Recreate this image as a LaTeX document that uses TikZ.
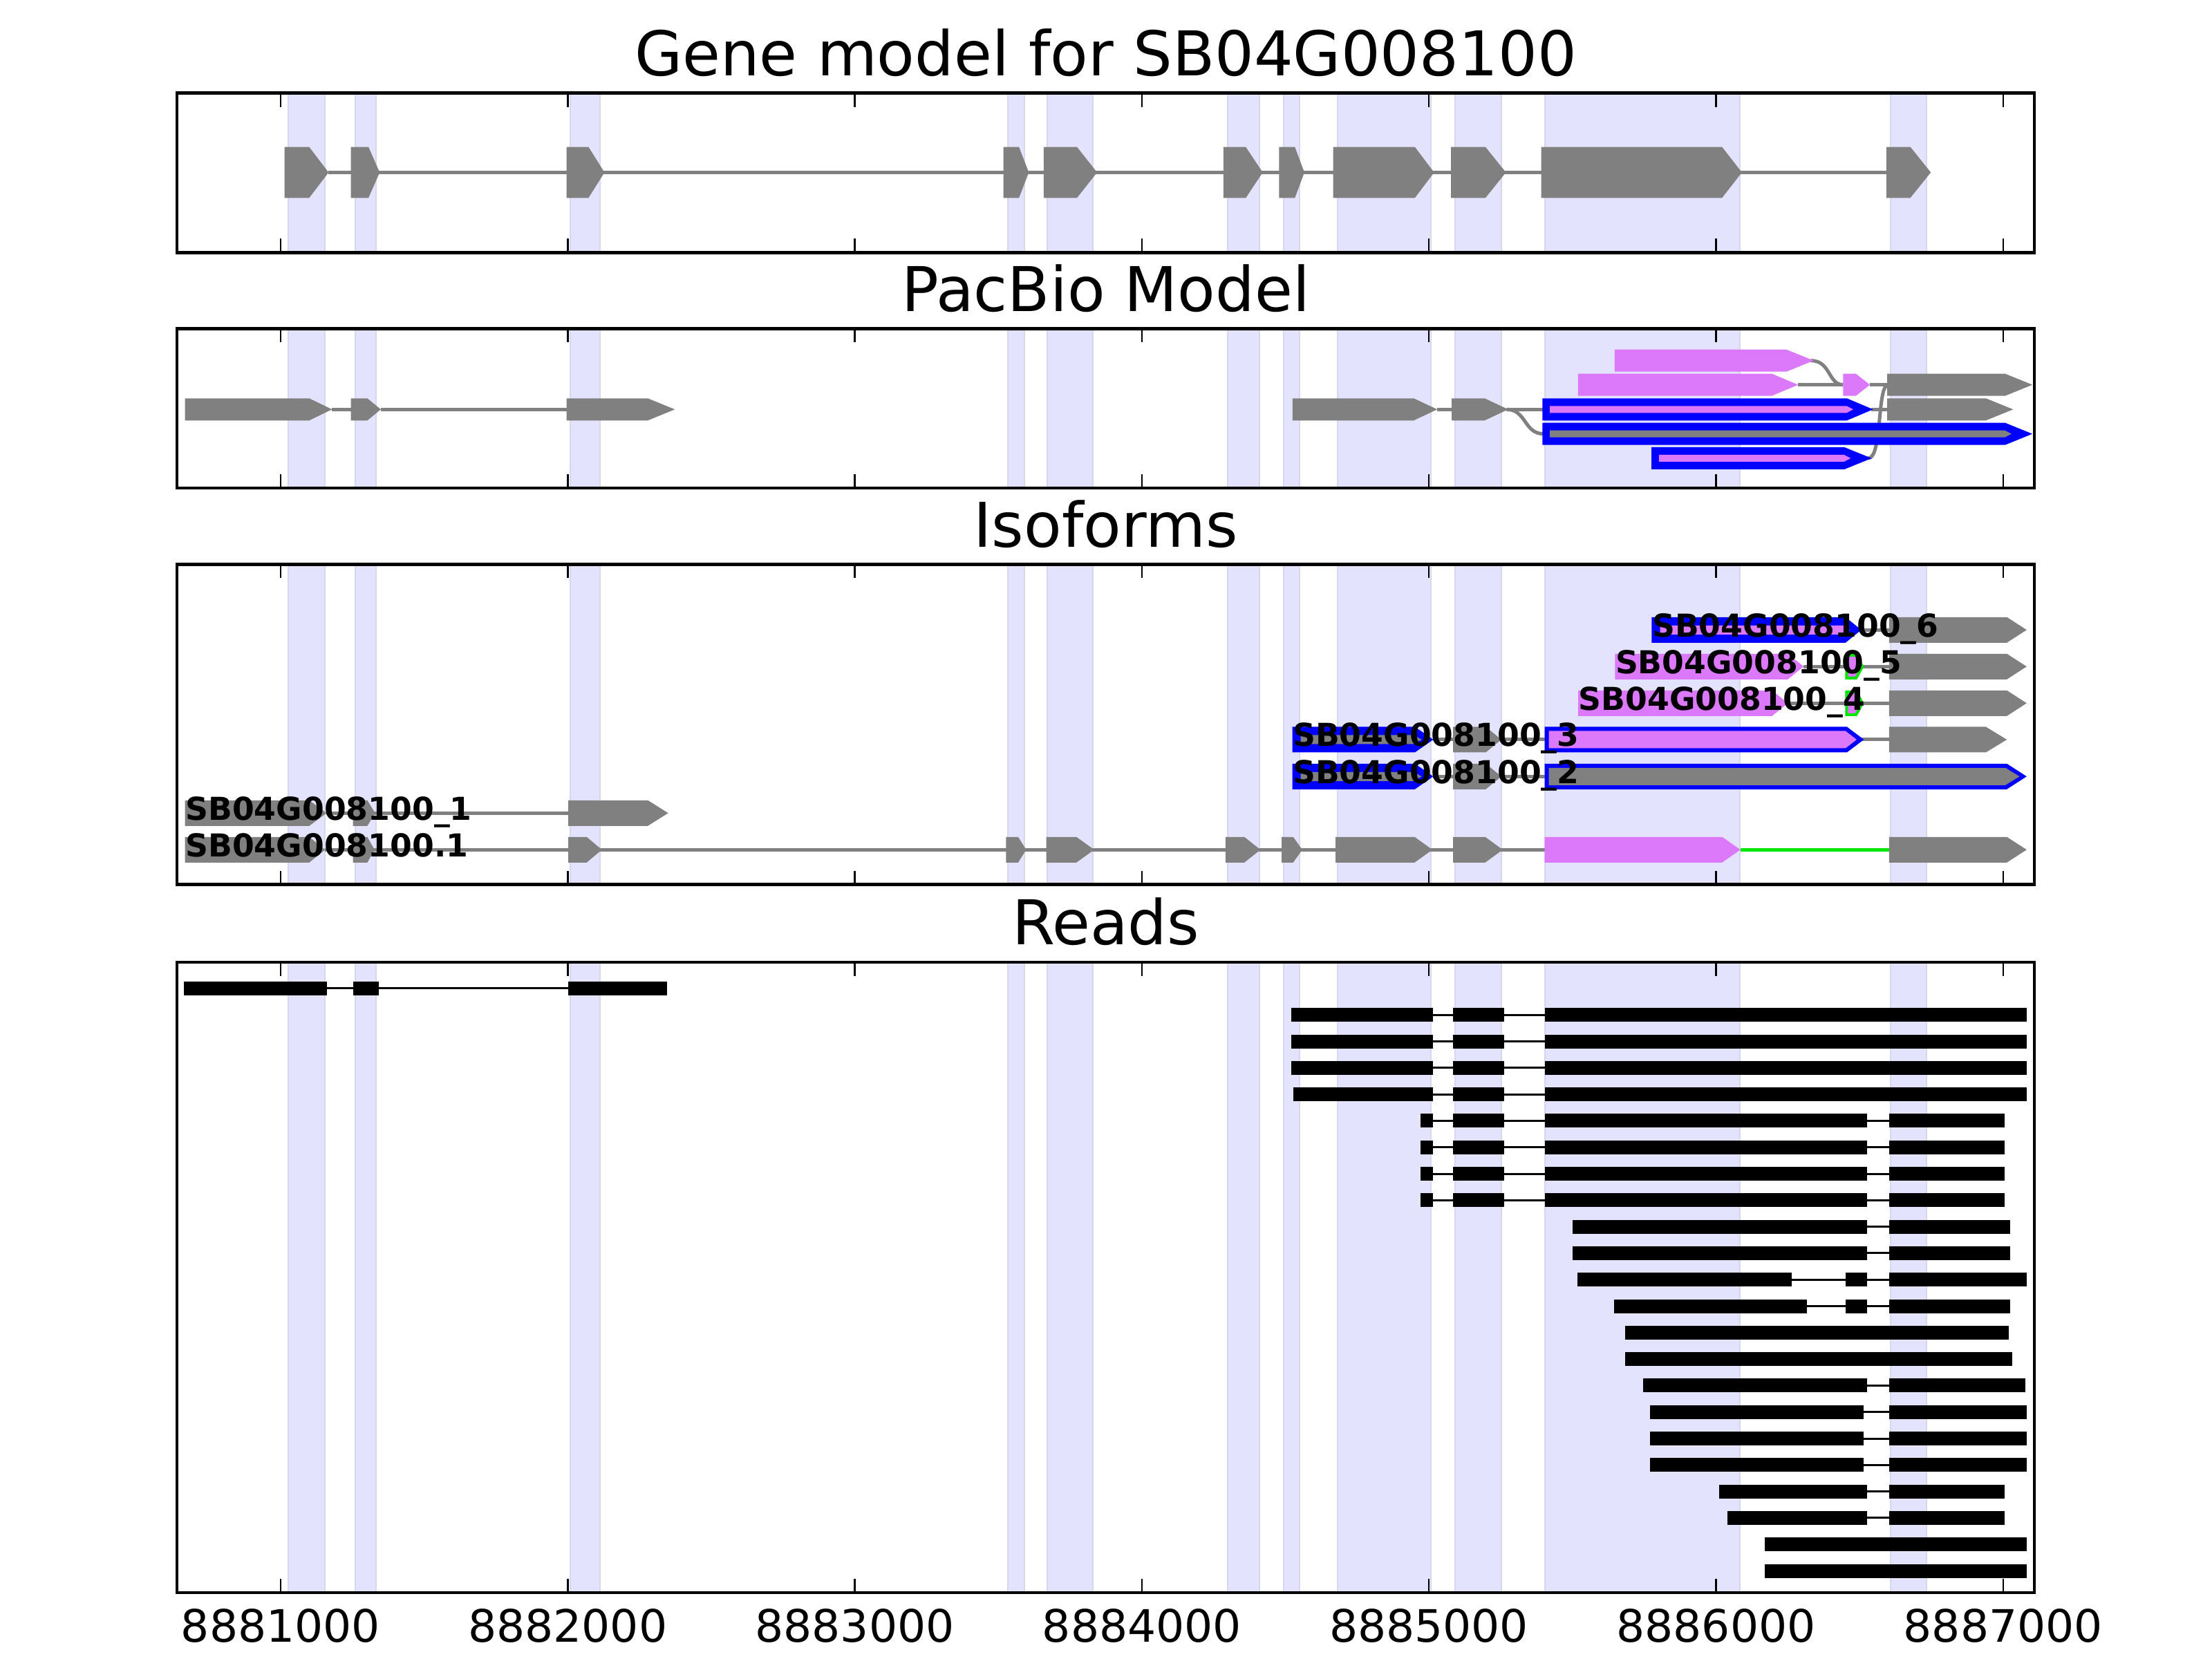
\documentclass[tikz,border=0pt]{standalone}
\usepackage{fontspec}
\setmainfont{DejaVu Sans}
\usepackage{tikz}
\usepackage{xcolor}

\definecolor{exongray}{RGB}{128,128,128}
\definecolor{isopink}{RGB}{220,120,250}
\definecolor{bandfill}{RGB}{227,227,253}
\definecolor{bandline}{RGB}{214,214,238}
\definecolor{newgreen}{RGB}{0,230,0}

% pentagon exon: start, body end, tip, centre y, half height
\newcommand{\exon}[5]{(#1,#4-#5) -- (#2,#4-#5) -- (#3,#4) -- (#2,#4+#5) -- (#1,#4+#5) -- cycle}
\newcommand{\readrow}[4]{%
  \pgfmathsetmacro{\ry}{9.70-0.383*#1}
  \draw[readline] (#2,\ry) -- (#3,\ry);
  \foreach \a/\b in {#4} \fill[readbar] (\a,\ry-0.1) rectangle (\b,\ry+0.1);}

\begin{document}
\begin{tikzpicture}[
  band/.style={fill=bandfill, draw=bandline, line width=0.02cm},
  intron/.style={draw=exongray, line width=0.05cm},
  readline/.style={draw=black, line width=0.03cm},
  readbar/.style={fill=black},
  panelframe/.style={draw=black, line width=0.045cm},
  tickmark/.style={draw=black, line width=0.025cm},
  paneltitle/.style={font=\fontsize{25.4}{30}\selectfont, anchor=base, inner sep=0pt},
  ticklabel/.style={font=\fontsize{18.4}{22}\selectfont, anchor=base, inner sep=0pt},
  isolabel/.style={font=\fontsize{13}{15}\selectfont\bfseries, anchor=base west, inner sep=0pt}]
\useasboundingbox (0,0) rectangle (32,24);
\fill[white] (0,0) rectangle (32,24);
\begin{scope}[x=4.153cm, xshift=-0.093cm]
\foreach \yb/\yt in {20.347/22.653,16.939/19.245,11.204/15.837,0.96/10.082}
  \foreach \a/\b in {1.026/1.155,1.259/1.333,2.009/2.113,3.532/3.591,3.671/3.830,4.299/4.409,4.494/4.549,4.682/5.006,5.092/5.252,5.403/6.082,6.608/6.734}
    \filldraw[band] (\a,\yb) rectangle (\b,\yt);

% gene model
\draw[intron] (1.167,21.505) -- (6.593,21.505);
\foreach \a/\b/\c in {1.0135/1.0995/1.167,1.2445/1.306/1.345,1.996/2.0725/2.128,3.518/3.572/3.606,3.658/3.774/3.844,4.284/4.362/4.421,4.478/4.533/4.566,4.666/4.951/5.018,5.077/5.197/5.268,5.391/6.021/6.090,6.593/6.677/6.748}
  \fill[exongray] \exon{\a}{\b}{\c}{21.505}{0.368};

% pacbio model
\draw[intron] (1.179,18.077) -- (1.2445,18.077) (1.349,18.077) -- (1.996,18.077)
  (5.029,18.077) -- (5.079,18.077) (5.276,18.077) -- (5.40,18.077) (6.54,18.077) -- (6.596,18.077)
  (6.286,18.433) -- (6.443,18.433) (6.536,18.433) -- (6.596,18.433);
\draw[intron] (6.330,18.783) .. controls (6.40,18.783) and (6.39,18.433) .. (6.443,18.433);
\draw[intron] (5.27,18.077) .. controls (5.34,18.077) and (5.33,17.723) .. (5.40,17.723);
\draw[intron] (6.53,17.37) .. controls (6.58,17.37) and (6.56,18.433) .. (6.60,18.433);
\foreach \a/\b/\c in {0.667/1.0995/1.179,1.2445/1.302/1.349,1.996/2.279/2.373,4.525/4.947/5.029,5.079/5.194/5.276,6.596/6.940/7.035}
  \fill[exongray] \exon{\a}{\b}{\c}{18.077}{0.16};
\fill[exongray] \exon{6.596}{7.007}{7.102}{18.433}{0.16};
\fill[isopink] \exon{5.647}{6.245}{6.340}{18.783}{0.16};
\fill[isopink] \exon{5.519}{6.194}{6.286}{18.433}{0.16};
\fill[isopink] \exon{6.443}{6.487}{6.536}{18.433}{0.16};
\fill[blue] \exon{5.395}{6.456}{6.547}{18.077}{0.16};
\fill[isopink] \exon{5.421}{6.455}{6.478}{18.077}{0.05};
\fill[blue] \exon{5.395}{7.007}{7.102}{17.723}{0.16};
\fill[exongray] \exon{5.421}{7.006}{7.029}{17.723}{0.05};
\fill[blue] \exon{5.775}{6.447}{6.542}{17.370}{0.16};
\fill[isopink] \exon{5.801}{6.446}{6.469}{17.370}{0.05};

% isoforms
\draw[intron] (1.155,11.707) -- (5.403,11.707) (1.16,12.237) -- (2.002,12.237)
  (5.015,12.767) -- (5.403,12.767) (5.015,13.30) -- (6.603,13.30)
  (6.250,13.827) -- (6.603,13.827) (6.305,14.357) -- (6.603,14.357) (6.506,14.887) -- (6.603,14.887);
\draw[newgreen, line width=0.055cm] (6.085,11.707) -- (6.606,11.707);
\foreach \a/\b/\c in {0.667/1.0995/1.155,1.252/1.302/1.327,2.002/2.066/2.119,3.527/3.569/3.597,3.667/3.772/3.834,4.291/4.357/4.413,4.487/4.527/4.559,4.675/4.950/5.012,5.084/5.196/5.257,6.603/7.013/7.082}
  \fill[exongray] \exon{\a}{\b}{\c}{11.707}{0.185};
\fill[isopink] \exon{5.403}{6.021}{6.085}{11.707}{0.185};
\foreach \a/\b/\c in {0.667/1.0995/1.160,1.252/1.302/1.329,2.002/2.279/2.350}
  \fill[exongray] \exon{\a}{\b}{\c}{12.237}{0.185};
\foreach \y in {12.767,13.30} {
  \fill[blue] \exon{4.524}{4.951}{5.015}{\y}{0.185};
  \fill[exongray] \exon{4.553}{4.946}{4.975}{\y}{0.065};
  \fill[exongray] \exon{5.084}{5.198}{5.252}{\y}{0.185};
}
\fill[blue] \exon{5.403}{7.013}{7.082}{12.767}{0.185};
\fill[exongray] \exon{5.4175}{7.008}{7.057}{12.767}{0.125};
\fill[blue] \exon{5.403}{6.456}{6.515}{13.30}{0.185};
\fill[isopink] \exon{5.4175}{6.451}{6.490}{13.30}{0.125};
\fill[exongray] \exon{6.603}{6.940}{7.013}{13.30}{0.185};
\fill[isopink] \exon{5.520}{6.195}{6.250}{13.827}{0.185};
\fill[isopink] \exon{5.648}{6.250}{6.305}{14.357}{0.185};
\foreach \y in {13.827,14.357} {
  \filldraw[fill=isopink, draw=newgreen, line width=0.04cm] \exon{6.455}{6.488}{6.510}{\y}{0.165};
}
\fill[blue] \exon{5.776}{6.451}{6.506}{14.887}{0.185};
\fill[isopink] \exon{5.805}{6.446}{6.466}{14.887}{0.065};
\foreach \y in {13.827,14.357,14.887}
  \fill[exongray] \exon{6.603}{7.013}{7.082}{\y}{0.185};

% reads
\readrow{0}{0.663}{2.346}{0.663/1.162,1.253/1.342,2.002/2.346}
\foreach \i in {1,2,3} {\readrow{\i}{4.521}{7.082}{4.521/5.015,5.084/5.263,5.403/7.082}}
\readrow{4}{4.528}{7.082}{4.528/5.015,5.084/5.263,5.403/7.082}
\foreach \i in {5,6,7,8} {\readrow{\i}{4.971}{7.006}{4.971/5.015,5.084/5.263,5.403/6.526,6.603/7.006}}
\foreach \i in {9,10} {\readrow{\i}{5.500}{7.025}{5.500/6.526,6.603/7.025}}
\readrow{11}{5.516}{7.082}{5.516/6.263,6.451/6.526,6.603/7.082}
\readrow{12}{5.644}{7.024}{5.644/6.316,6.451/6.526,6.603/7.024}
\readrow{13}{5.684}{7.020}{5.684/7.020}
\readrow{14}{5.684}{7.031}{5.684/7.031}
\readrow{15}{5.745}{7.077}{5.745/6.526,6.603/7.077}
\foreach \i in {16,17,18} {\readrow{\i}{5.770}{7.082}{5.770/6.515,6.603/7.082}}
\readrow{19}{6.010}{7.006}{6.010/6.526,6.603/7.006}
\readrow{20}{6.039}{7.006}{6.039/6.526,6.603/7.006}
\foreach \i in {21,22} {\readrow{\i}{6.169}{7.082}{6.169/7.082}}

% axes
\foreach \yb/\yt in {20.347/22.653,16.939/19.245,11.204/15.837,0.96/10.082} {
  \foreach \k in {1,...,7} {
    \draw[tickmark] (\k,\yb) -- ++(0,0.2);
    \draw[tickmark] (\k,\yt) -- ++(0,-0.2);
  }
  \draw[panelframe] (0.639,\yb) rectangle (7.109,\yt);
}
\foreach \k in {1,...,7}
  \node[ticklabel] (tick\k) at (\k,0.24) {888\k000};
\node[paneltitle] (genetitle) at (3.874,22.90) {Gene model for SB04G008100};
\node[paneltitle] (pacbiotitle) at (3.874,19.495) {PacBio Model};
\node[paneltitle] (isotitle) at (3.874,16.087) {Isoforms};
\node[paneltitle] (readstitle) at (3.874,10.332) {Reads};

\node[isolabel] (iso6) at (5.776,14.787) {SB04G008100\_6};
\node[isolabel] (iso5) at (5.648,14.257) {SB04G008100\_5};
\node[isolabel] (iso4) at (5.520,13.727) {SB04G008100\_4};
\node[isolabel] (iso3) at (4.524,13.20) {SB04G008100\_3};
\node[isolabel] (iso2) at (4.524,12.667) {SB04G008100\_2};
\node[isolabel] (iso1) at (0.667,12.137) {SB04G008100\_1};
\node[isolabel] (isoref) at (0.667,11.607) {SB04G008100.1};
\end{scope}
\end{tikzpicture}
\end{document}
